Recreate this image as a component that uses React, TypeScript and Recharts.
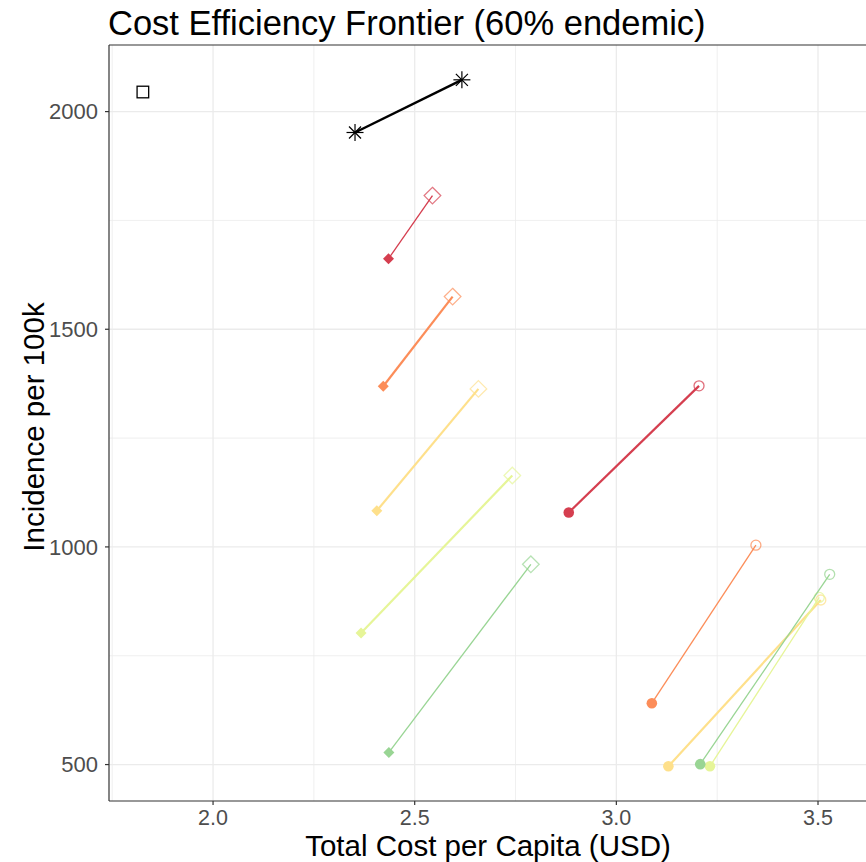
import React from 'react';
import { ScatterChart, Scatter, XAxis, YAxis, ReferenceLine } from 'recharts';

// ---- data ----
const seriesColors = ['#D53E4F', '#FC8D59', '#FEE08B', '#E6F598', '#99D594'];

const refSquareX = [1.826];
const refSquareY = [2045];

const starX = [2.352, 2.617];
const starY = [1952, 2073];

const diamondStartX = [2.435, 2.422, 2.406, 2.367, 2.436];
const diamondStartY = [1662, 1369, 1083, 802, 528];
const diamondEndX = [2.544, 2.594, 2.658, 2.742, 2.788];
const diamondEndY = [1807, 1575, 1363, 1164, 960];

const circleStartX = [2.882, 3.088, 3.129, 3.232, 3.208];
const circleStartY = [1079, 641, 496, 496, 501];
const circleEndX = [3.205, 3.346, 3.507, 3.503, 3.529];
const circleEndY = [1370, 1004, 878, 884, 937];

const xTicks = [2.0, 2.5, 3.0, 3.5];
const yTicks = [500, 1000, 1500, 2000];
const xMinorGrid = [1.75, 2.25, 2.75, 3.25];
const yMinorGrid = [750, 1250, 1750];

const xDomain = [1.742, 3.619];
const yDomain = [416.3, 2153];

// ---- styles ----
const diamondLineWidths = [1.3, 2.2, 2.2, 2.2, 1.3];
const circleLineWidths = [2.2, 1.3, 2.2, 1.3, 1.3];

const FONT = '"Liberation Sans", Arial, sans-serif';

const pair = (xs: number[], ys: number[], xe: number[], ye: number[], i: number) => [
  { x: xs[i], y: ys[i], end: false },
  { x: xe[i], y: ye[i], end: true },
];

const diamondShape = (color: string) => (p: any) => {
  const { cx, cy, payload } = p;
  if (cx == null || cy == null) return <g />;
  if (payload.end) {
    const r = 8.3;
    return (
      <path
        d={`M${cx},${cy - r}L${cx + r},${cy}L${cx},${cy + r}L${cx - r},${cy}Z`}
        fill="none"
        stroke={color}
        strokeOpacity={0.7}
        strokeWidth={1.3}
      />
    );
  }
  const r = 5.5;
  return <path d={`M${cx},${cy - r}L${cx + r},${cy}L${cx},${cy + r}L${cx - r},${cy}Z`} fill={color} />;
};

const circleShape = (color: string) => (p: any) => {
  const { cx, cy, payload } = p;
  if (cx == null || cy == null) return <g />;
  if (payload.end) {
    return <circle cx={cx} cy={cy} r={5} fill="none" stroke={color} strokeOpacity={0.75} strokeWidth={1.3} />;
  }
  return <circle cx={cx} cy={cy} r={5.3} fill={color} />;
};

const starShape = (p: any) => {
  const { cx, cy } = p;
  if (cx == null || cy == null) return <g />;
  const r = 8.5;
  const d = r * 0.7071;
  return (
    <g stroke="#000" strokeWidth={1.2}>
      <line x1={cx - r} y1={cy} x2={cx + r} y2={cy} />
      <line x1={cx} y1={cy - r} x2={cx} y2={cy + r} />
      <line x1={cx - d} y1={cy - d} x2={cx + d} y2={cy + d} />
      <line x1={cx - d} y1={cy + d} x2={cx + d} y2={cy - d} />
    </g>
  );
};

const squareShape = (p: any) => {
  const { cx, cy } = p;
  if (cx == null || cy == null) return <g />;
  const s = 5.8;
  return <rect x={cx - s} y={cy - s} width={2 * s} height={2 * s} fill="none" stroke="#000" strokeWidth={1.3} />;
};

export default function App() {
  const squareData = refSquareX.map((x, i) => ({ x, y: refSquareY[i], end: false }));
  const starData = starX.map((x, i) => ({ x, y: starY[i], end: i === 1 }));

  return (
    <div
      style={{
        position: 'absolute',
        left: 0,
        top: 0,
        width: 866,
        height: 862,
        background: '#fff',
        overflow: 'hidden',
        fontFamily: FONT,
      }}
    >
      <div
        style={{
          position: 'absolute',
          left: 108,
          top: 6,
          fontSize: 34.5,
          lineHeight: '34px',
          color: '#000',
          whiteSpace: 'nowrap',
        }}
      >
        Cost Efficiency Frontier (60% endemic)
      </div>
      <div
        style={{
          position: 'absolute',
          left: 488,
          top: 846,
          transform: 'translate(-50%, -50%)',
          fontSize: 29.5,
          lineHeight: '26px',
          color: '#000',
          whiteSpace: 'nowrap',
        }}
      >
        Total Cost per Capita (USD)
      </div>
      <div
        style={{
          position: 'absolute',
          left: 34,
          top: 427,
          transform: 'translate(-50%, -50%) rotate(-90deg)',
          fontSize: 29.5,
          lineHeight: '26px',
          color: '#000',
          whiteSpace: 'nowrap',
        }}
      >
        Incidence per 100k
      </div>
      <ScatterChart width={866} height={862} margin={{ top: 45, right: 0, bottom: 0, left: 0 }} style={{ position: 'absolute', left: 0, top: 0 }}>
        <XAxis
          type="number"
          dataKey="x"
          domain={xDomain}
          allowDataOverflow
          ticks={xTicks}
          tickFormatter={(v: number) => v.toFixed(1)}
          height={61}
          tickSize={4}
          tickMargin={5}
          axisLine={{ stroke: '#333333', strokeWidth: 1.2 }}
          tickLine={{ stroke: '#333333', strokeWidth: 1.2 }}
          tick={{ fill: '#4D4D4D', fontSize: 21.5, fontFamily: FONT }}
        />
        <YAxis
          type="number"
          dataKey="y"
          domain={yDomain}
          allowDataOverflow
          ticks={yTicks}
          width={109}
          tickSize={4}
          tickMargin={7}
          axisLine={{ stroke: '#333333', strokeWidth: 1.2 }}
          tickLine={{ stroke: '#333333', strokeWidth: 1.2 }}
          tick={{ fill: '#4D4D4D', fontSize: 22, fontFamily: FONT }}
        />
        {xMinorGrid.map((v) => (
          <ReferenceLine key={'xm' + v} x={v} stroke="#EBEBEB" strokeWidth={0.8} />
        ))}
        {yMinorGrid.map((v) => (
          <ReferenceLine key={'ym' + v} y={v} stroke="#EBEBEB" strokeWidth={0.8} />
        ))}
        {xTicks.map((v) => (
          <ReferenceLine key={'xM' + v} x={v} stroke="#EBEBEB" strokeWidth={1.3} />
        ))}
        {yTicks.map((v) => (
          <ReferenceLine key={'yM' + v} y={v} stroke="#EBEBEB" strokeWidth={1.3} />
        ))}
        <ReferenceLine y={yDomain[1]} stroke="#333333" strokeWidth={1.2} />

        {seriesColors.map((c, i) => (
          <Scatter
            key={'dia' + i}
            data={pair(diamondStartX, diamondStartY, diamondEndX, diamondEndY, i)}
            shape={diamondShape(c)}
            line={{ stroke: c, strokeWidth: diamondLineWidths[i] }}
            isAnimationActive={false}
          />
        ))}
        {seriesColors.map((c, i) => (
          <Scatter
            key={'circ' + i}
            data={pair(circleStartX, circleStartY, circleEndX, circleEndY, i)}
            shape={circleShape(c)}
            line={{ stroke: c, strokeWidth: circleLineWidths[i] }}
            isAnimationActive={false}
          />
        ))}
        <Scatter
          data={starData}
          shape={starShape}
          line={{ stroke: '#000', strokeWidth: 2.5 }}
          isAnimationActive={false}
        />
        <Scatter data={squareData} shape={squareShape} isAnimationActive={false} />
      </ScatterChart>
    </div>
  );
}
